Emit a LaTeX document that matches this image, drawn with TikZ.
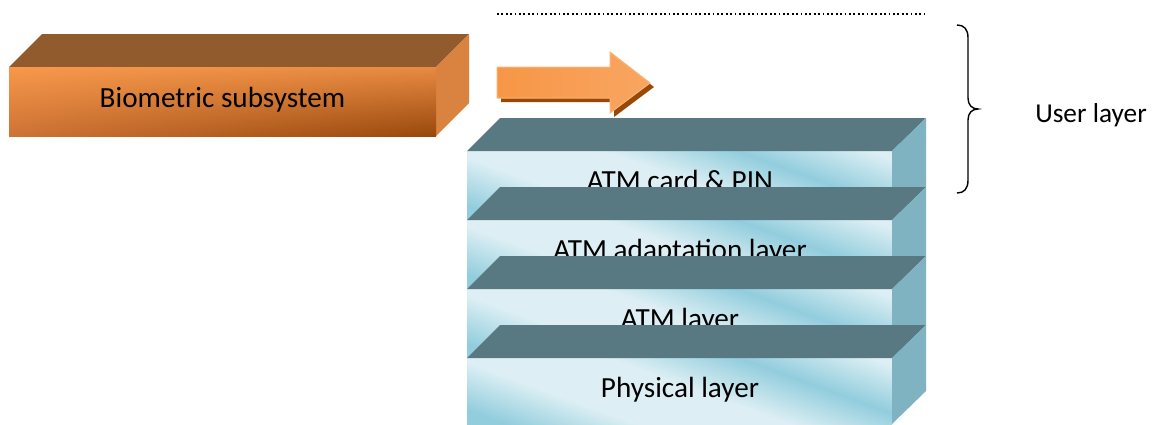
\documentclass[tikz,border=0pt]{standalone}
\usepackage{fontspec}
\setmainfont{Carlito}
\usetikzlibrary{shadings}
\definecolor{orTop}{RGB}{146,91,45}
\definecolor{orSide}{RGB}{218,130,64}
\definecolor{orUL}{RGB}{247,152,75}
\definecolor{orUR}{RGB}{232,138,66}
\definecolor{orLL}{RGB}{205,115,52}
\definecolor{orLR}{RGB}{152,72,12}
\definecolor{arFill}{RGB}{247,150,70}
\definecolor{arEdge}{RGB}{250,180,120}
\definecolor{arShadow}{RGB}{152,72,7}
\definecolor{tealTop}{RGB}{89,121,130}
\definecolor{tealSide}{RGB}{128,179,193}
\definecolor{iceA}{RGB}{221,239,244}
\definecolor{iceB}{RGB}{146,205,221}
\pgfdeclarehorizontalshading{iceface}{100bp}{color(0bp)=(iceB); color(22bp)=(iceB); color(36bp)=(iceA); color(52bp)=(iceA); color(66bp)=(iceB); color(80bp)=(iceA); color(100bp)=(iceA)}
\tikzset{
  lbl/.style={font=\fontsize{29.2}{34}\selectfont, inner sep=0pt, anchor=base, text=black},
  sidelbl/.style={font=\fontsize{27.3}{32}\selectfont, inner sep=0pt, anchor=base, text=black},
  slabtop/.style={fill=tealTop},
  slabside/.style={fill=tealSide},
}
\begin{document}
\begin{tikzpicture}[x=1pt,y=-1pt]
\useasboundingbox (0,0) rectangle (1154,424);
% dotted line
\draw[line width=1.7pt, dash pattern=on 1.7pt off 2.7pt] (497,14) coordinate (dl) -- (925,14) coordinate (dr);
% biometric box
\fill[orTop] (9,67) -- (42,34) -- (469,34) -- (436,67) -- cycle;
\fill[orSide] (436,67) -- (469,34) -- (469,103) -- (436,136) -- cycle;
\shade[upper left=orUL, upper right=orUR, lower left=orLL, lower right=orLR] (9,67) rectangle (436,136);
\node[lbl] (bio) at (222.5,107) {Biometric subsystem};
% arrow
\fill[arShadow] (501,71) -- (614,71) -- (614,56) -- (654,87) -- (614,117) -- (614,102) -- (501,102) -- cycle;
\shade[draw=arEdge, line width=1pt, left color=arFill, right color=arFill!85!white] (497,67) -- (610,67) -- (610,52) -- (650,83) -- (610,113) -- (610,98) -- (497,98) -- cycle;
% layers
\foreach \y/\t/\n/\h in {151/ATM card \& PIN/l1/69, 220/ATM adaptation layer/l2/69, 289/ATM layer/l3/69, 358/Physical layer/l4/66} {
  \shade[shading=iceface, shading angle=70] (467,\y) rectangle (892,\y+\h);
  \fill[slabtop] (467,\y) -- (500,\y-33) -- (926,\y-33) -- (892,\y) -- cycle;
  \fill[slabside] (892,\y) -- (926,\y-33) -- (926,\y+\h-33) -- (892,\y+\h) -- cycle;
  \node[lbl] (\n) at (680,\y+39) {\t};
}
% brace
\draw[line width=1.4pt] (957,25) .. controls (964,25) and (968,29) .. (968,38) -- (968,98) .. controls (968,105) and (972,109) .. (978,109) .. controls (972,109) and (968,113) .. (968,120) -- (968,180) .. controls (968,189) and (964,193) .. (957,193);
\node[sidelbl] (user) at (1091,122) {User layer};
\end{tikzpicture}
\end{document}
